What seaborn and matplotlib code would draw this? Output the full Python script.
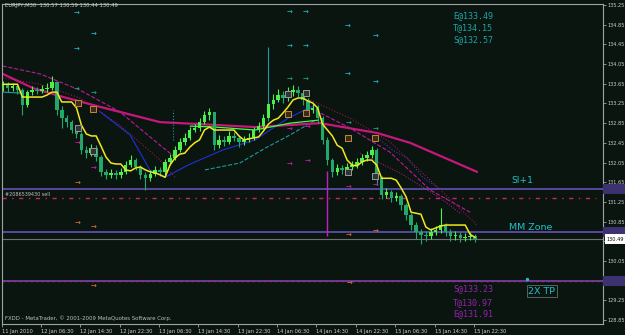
import numpy as np
import pandas as pd
import matplotlib
matplotlib.use("Agg")
import matplotlib.pyplot as plt
import matplotlib.transforms as mtrans
from matplotlib.patches import Rectangle
import seaborn as sns

# ---------------- data (hourly candles, x = hours since first bar) ----------------
open_first = 133.58
close = [133.62, 133.56, 133.60, 133.52, 133.22, 133.48, 133.52, 133.50, 133.54, 133.56,
         133.68, 133.12, 132.95, 132.87, 132.71, 132.63, 132.30, 132.24, 132.34, 132.16,
         131.86, 131.80, 131.84, 131.80, 131.86, 132.00, 132.10, 131.96, 131.80, 131.73,
         131.82, 131.90, 131.86, 132.06, 132.14, 132.30, 132.47, 132.55, 132.71, 132.75,
         132.87, 133.01, 133.07, 132.40, 132.51, 132.47, 132.59, 132.55, 132.47, 132.51,
         132.55, 132.71, 132.79, 132.95, 133.24, 133.32, 133.42, 133.36, 133.48, 133.52,
         133.46, 133.32, 133.12, 133.16, 132.95, 132.51, 132.10, 131.86, 131.94, 131.90,
         131.96, 132.00, 132.06, 132.14, 132.20, 132.30, 131.73, 131.39, 131.45, 131.33,
         131.37, 131.18, 130.98, 130.78, 130.64, 130.58, 130.56, 130.64, 130.68, 130.78,
         130.64, 130.56, 130.58, 130.52, 130.54, 130.56, 130.49]
high = [133.70, 133.68, 133.66, 133.64, 133.56, 133.52, 133.60, 133.58, 133.62, 133.66,
        133.80, 133.70, 133.20, 133.02, 132.92, 132.78, 132.66, 132.38, 132.42, 132.40,
        132.20, 131.92, 131.92, 131.90, 131.94, 132.08, 132.20, 132.14, 132.00, 131.86,
        131.90, 131.98, 131.96, 132.12, 132.22, 132.38, 132.55, 132.64, 132.78, 132.84,
        132.96, 133.10, 133.16, 133.08, 132.60, 132.58, 132.70, 132.68, 132.60, 132.58,
        132.64, 132.78, 132.88, 133.04, 134.40, 133.44, 133.54, 133.50, 133.58, 133.62,
        133.60, 133.50, 133.36, 133.26, 133.22, 133.00, 132.56, 132.14, 132.02, 132.00,
        132.04, 132.08, 132.14, 132.22, 132.28, 132.38, 132.34, 131.78, 131.54, 131.50,
        131.46, 131.42, 131.22, 131.02, 130.84, 130.70, 130.66, 130.72, 130.76, 131.12,
        130.82, 130.70, 130.66, 130.64, 130.62, 130.64, 130.59]
low = [133.50, 133.48, 133.50, 133.44, 133.01, 133.18, 133.42, 133.44, 133.46, 133.48,
       133.52, 133.02, 132.75, 132.78, 132.64, 132.55, 132.22, 132.14, 132.18, 132.08,
       131.78, 131.72, 131.74, 131.72, 131.74, 131.82, 131.96, 131.90, 131.72, 131.50,
       131.68, 131.78, 131.78, 131.80, 132.00, 132.10, 132.26, 132.40, 132.50, 132.66,
       132.70, 132.84, 132.92, 132.30, 132.34, 132.38, 132.42, 132.48, 132.36, 132.40,
       132.46, 132.50, 132.66, 132.74, 132.90, 133.14, 133.28, 133.26, 133.30, 133.40,
       133.38, 133.22, 133.04, 133.06, 132.86, 132.42, 132.00, 131.76, 131.80, 131.82,
       131.84, 131.90, 131.94, 132.00, 132.08, 132.14, 131.60, 131.30, 131.32, 131.24,
       131.26, 131.08, 130.88, 130.68, 130.50, 130.40, 130.46, 130.50, 130.58, 130.62,
       130.56, 130.46, 130.48, 130.44, 130.46, 130.48, 130.44]
yellow = [133.64, 133.64, 133.64, 133.64, 133.38, 133.38, 133.38, 133.38, 133.38, 133.42,
          133.48, 133.48, 133.28, 133.28, 133.28, 133.16, 132.81, 132.63, 132.59, 132.59,
          132.38, 132.16, 132.04, 132.02, 132.02, 131.90, 131.88, 131.94, 131.96, 131.90,
          131.86, 131.84, 131.80, 131.75, 132.00, 132.14, 132.22, 132.24, 132.36, 132.45,
          132.51, 132.71, 132.77, 132.71, 132.71, 132.71, 132.71, 132.71, 132.59, 132.51,
          132.53, 132.55, 132.57, 132.69, 132.83, 132.91, 132.95, 133.06, 133.18, 133.32,
          133.36, 133.36, 133.30, 133.26, 133.16, 132.83, 132.71, 132.59, 132.40, 132.34,
          132.10, 132.00, 131.98, 132.06, 132.10, 132.10, 132.00, 131.73, 131.73, 131.73,
          131.69, 131.53, 131.35, 131.04, 131.02, 131.00, 130.74, 130.68, 130.72, 130.76,
          130.78, 130.78, 130.78, 130.78, 130.78, 130.59, 130.53]

ma_slow_h = [0, 6.2, 11.6, 19.8, 32.0, 40.1, 51.3, 64.5, 76.1, 82.8, 89.5, 96.4]
ma_slow_p = [133.85, 133.56, 133.40, 133.18, 132.87, 132.83, 132.77, 132.85, 132.65, 132.45, 132.16, 131.86]
env_a_left_h = [0, 7.6, 15.7, 23.8, 32.0, 35.0]
env_a_left_p = [134.01, 133.85, 133.52, 133.08, 132.40, 132.16]
env_b_left_h = [0, 7.6, 15.7, 23.8, 32.0, 35.0]
env_b_left_p = [133.77, 133.64, 133.36, 132.81, 132.10, 131.75]
env_a_right_h = [62.5, 70.6, 78.7, 86.9, 96.4]
env_a_right_p = [133.32, 132.95, 132.47, 131.69, 130.78]
env_b_right_h = [62.5, 70.6, 78.7, 86.9, 95.0]
env_b_right_p = [133.16, 132.75, 132.26, 131.49, 131.04]
env_c_right_h = [72.6, 80.7, 88.9, 93.0]
env_c_right_p = [132.24, 131.84, 131.33, 131.02]
blue_h = [19.8, 25.9, 29.9, 33.0, 37.7, 44.6, 51.3, 58.0, 63.5]
blue_p = [133.08, 132.61, 131.90, 131.75, 132.00, 132.30, 132.51, 132.95, 133.22]
blue2_h = [76.7, 79.3, 82.2, 85.4, 88.3]
blue2_p = [132.51, 132.30, 132.14, 131.75, 131.55]
teal_h = [41.1, 48.2, 53.3, 58.4, 63.5]
teal_p = [131.90, 132.04, 132.34, 132.61, 132.91]
teal0_h = [0, 3.9]
teal0_p = [133.48, 133.46]
lime_h = [38.1, 43.2, 51.3, 58.4, 64.1]
lime_p = [132.79, 132.77, 132.71, 132.85, 132.91]

level_sl1 = 131.52
level_order = 131.32
level_mm = 130.64
level_bid = 130.49
level_tp2 = 129.65

vline_mag_h, vline_mag_lo, vline_mag_hi = 65.9, 130.56, 131.88
vline_teal_h, vline_teal_lo, vline_teal_hi = 34.6, 132.51, 133.12

arrows_cyan_h = [15.1, 18.4, 15.1, 58.2, 61.6, 70.0, 75.7, 58.2, 61.6, 70.0, 75.7]
arrows_cyan_p = [135.10, 134.66, 134.36, 135.11, 135.11, 134.82, 134.62, 134.42, 134.42, 133.85, 133.69]
arrows_green_h = [15.1, 18.4, 58.2, 61.6, 70.2, 75.7]
arrows_green_p = [133.54, 133.46, 133.75, 133.75, 132.85, 132.73]
arrows_mag_h = [15.3, 18.4, 58.2, 61.9, 58.2, 61.9, 70.2, 75.7]
arrows_mag_p = [132.45, 131.94, 132.73, 132.77, 132.02, 132.08, 131.55, 131.59]
arrows_org_h = [15.3, 15.3, 18.4, 70.2, 75.7, 18.4, 70.4]
arrows_org_p = [131.63, 130.82, 130.74, 130.58, 130.66, 129.54, 129.60]
box_tan_h = [15.3, 18.4, 58.0, 61.7, 70.2, 75.7]
box_tan_p = [133.26, 133.14, 133.03, 133.05, 132.55, 132.55]
box_gray_h = [15.3, 18.4, 58.0, 61.7, 70.2, 75.7]
box_gray_p = [132.75, 132.28, 133.44, 133.46, 131.86, 131.77]

time_labels = ["11 Jan 2010", "12 Jan 06:30", "12 Jan 14:30", "12 Jan 22:30", "13 Jan 06:30",
               "13 Jan 14:30", "13 Jan 22:30", "14 Jan 06:30", "14 Jan 14:30", "14 Jan 22:30",
               "15 Jan 06:30", "15 Jan 14:30", "15 Jan 22:30"]
time_hours = [0, 8, 16, 24, 32, 40, 48, 56, 64, 72, 80, 88, 96]
price_ticks = [128.85, 129.25, 129.65, 130.05, 130.45, 130.85, 131.25, 131.65, 132.05,
               132.45, 132.85, 133.25, 133.65, 134.05, 134.45, 134.85, 135.25]
buy_texts = ["E@133.49", "T@134.15", "S@132.57"]
buy_text_p = [135.03, 134.80, 134.54]
sell_texts = ["S@133.23", "T@130.97", "E@131.91"]
sell_text_p = [129.48, 129.21, 128.99]

# ---------------- style ----------------
BG = "#0a1510"
FRAME = "#9ea4a4"
TXT = "#cfcfcf"
sns.set_theme(style="dark", rc={"axes.facecolor": BG, "figure.facecolor": BG})
plt.rcParams["font.family"] = ["DejaVu Sans"]

fig = plt.figure(figsize=(6.25, 3.35), dpi=100)
fig.patch.set_facecolor(BG)
ax = fig.add_axes([2 / 625, 11 / 335, 601 / 625, 320 / 335])
ax.set_facecolor(BG)
ax.set_xlim(-0.14, 122.0)
ax.set_ylim(128.77, 135.27)
ax.grid(False)

# horizontal objects
ax.axhline(level_tp2, color="#54469a", lw=1.4, zorder=1)
ax.axhline(level_tp2, color="#b0207a", lw=1.0, dashes=(2, 2), zorder=1.1)
ax.axhline(level_sl1, color="#57499e", lw=1.4, zorder=1)
ax.axhline(level_mm, color="#57499e", lw=1.4, zorder=1)
ax.axhline(level_bid, color="#707070", lw=0.8, zorder=1)
ax.plot([-0.14, 120.5], [level_order, level_order], color="#d0206a", lw=1.0,
        dashes=(3, 4, 1, 4), zorder=1)


def line(hs, ps, color, lw, ls="-", z=2):
    sns.lineplot(x=hs, y=ps, ax=ax, color=color, lw=lw, linestyle=ls,
                 sort=False, estimator=None, legend=False, zorder=z)


# indicator lines
line(env_a_left_h, env_a_left_p, "#c0189a", 0.8, "--")
line(env_b_left_h, env_b_left_p, "#a0124a", 0.8, ":")
line(env_a_right_h, env_a_right_p, "#a0124a", 0.8, ":")
line(env_b_right_h, env_b_right_p, "#c0189a", 0.8, "--")
line(env_c_right_h, env_c_right_p, "#c0189a", 0.7, ":")
line(blue_h, blue_p, "#2030d8", 0.8)
line(blue2_h, blue2_p, "#4a30c8", 0.8, ":")
line(teal_h, teal_p, "#1f9aa0", 0.8, "--")
line(teal0_h, teal0_p, "#1f9aa0", 0.8)
line(ma_slow_h, ma_slow_p, "#c8177c", 1.6)
line(lime_h, lime_p, "#40ff40", 0.9)

# candles
hours = np.arange(len(close))
opens = np.array([open_first] + close[:-1])
closes = np.array(close)
up = closes >= opens
cols = np.where(up, "#4cf04c", "#22a86a")
wick_cols = cols.copy()
wick_cols[int(np.argmax(high))] = "#1f9aa0"
ax.vlines(hours, low, high, colors=wick_cols, lw=0.8, zorder=3)
bodies = np.maximum(np.abs(closes - opens), 0.025)
ax.bar(hours, bodies, bottom=np.minimum(opens, closes), width=0.72, color=cols,
       linewidth=0, zorder=3)

line(hours, yellow, "#f2e81e", 1.1, z=4)

# vertical objects
ax.vlines([vline_mag_h], vline_mag_lo, vline_mag_hi, colors="#c020c0", lw=1.0, zorder=2)
ax.vlines([vline_teal_h], vline_teal_lo, vline_teal_hi, colors="#1f9aa0", lw=0.8,
          linestyles=":", zorder=2)

# trade markers
for hs, ps, c in [(arrows_cyan_h, arrows_cyan_p, "#22b4bc"),
                  (arrows_green_h, arrows_green_p, "#1fa080"),
                  (arrows_mag_h, arrows_mag_p, "#c020a0"),
                  (arrows_org_h, arrows_org_p, "#d86a30")]:
    for h, p in zip(hs, ps):
        ax.text(h, p, "\u2192", color=c, fontsize=5, fontweight="bold",
                ha="center", va="center", zorder=5)
ax.scatter(box_tan_h, box_tan_p, marker="s", s=14, facecolors="#3a2c18",
           edgecolors="#c08a3a", linewidths=0.7, zorder=5)
ax.scatter(box_gray_h, box_gray_p, marker="s", s=14, facecolors="#303434",
           edgecolors="#9a9a9a", linewidths=0.7, zorder=5)

# texts on chart
for t, p in zip(buy_texts, buy_text_p):
    ax.text(91.5, p, t, color="#1aa5a5", fontsize=6, family="DejaVu Sans Mono",
            ha="left", va="center", zorder=6)
for t, p in zip(sell_texts, sell_text_p):
    ax.text(91.5, p, t, color="#9a20b0", fontsize=6, family="DejaVu Sans Mono",
            ha="left", va="center", zorder=6)
ax.text(105.7, level_sl1 + 0.17, "Sl+1", color="#22c0c8", fontsize=6.6,
        ha="center", va="center", zorder=6)
ax.text(107.4, level_mm + 0.10, "MM Zone", color="#22c0c8", fontsize=6.8,
        ha="center", va="center", zorder=6)
ax.text(109.6, 129.44, "2X TP", color="#22c0c8", fontsize=6.8, ha="center", va="center",
        zorder=6, bbox=dict(boxstyle="square,pad=0.15", fc="none", ec="#5e7070", lw=0.6))
ax.scatter([106.6], [129.68], s=2, color="#22c0c8", zorder=6)
ax.text(0.5, 131.41, "#2086539430 sell", color="#c0c0c0", fontsize=3.5,
        ha="left", va="center", zorder=6)

# axes frame and ticks
for s in ax.spines.values():
    s.set_color(FRAME)
    s.set_linewidth(0.8)
ax.yaxis.tick_right()
ax.set_yticks(price_ticks)
ax.set_yticklabels(["" if abs(v - level_bid) < 0.1 else f"{v:.2f}" for v in price_ticks])
ax.tick_params(axis="y", colors=FRAME, labelcolor=TXT, labelsize=3.6, length=2,
               width=0.6, pad=1.5, direction="out")
xt = np.array(time_hours, dtype=float) - 0.24
xt[0] = -0.14
ax.set_xticks(xt)
ax.set_xticklabels(time_labels)
ax.tick_params(axis="x", colors=FRAME, labelcolor=TXT, labelsize=3.7, length=2.5,
               width=0.6, pad=0.8, direction="out", bottom=True)
for lab in ax.get_xticklabels():
    lab.set_ha("left")
ax.set_xlabel("")
ax.set_ylabel("")

# right-axis price label boxes
tr = mtrans.blended_transform_factory(ax.transAxes, ax.transData)
for lv in [level_sl1, level_mm, level_tp2]:
    ax.add_patch(Rectangle((1.0, lv - 0.1), 0.037, 0.2, transform=tr, clip_on=False,
                           fc="#3c3270", ec="none", zorder=7))
ax.add_patch(Rectangle((1.003, level_bid - 0.1), 0.034, 0.2, transform=tr, clip_on=False,
                       fc="white", ec="none", zorder=7))
ax.text(1.006, level_bid, f"{level_bid:.2f}", transform=tr, color="black", fontsize=3.6,
        ha="left", va="center", zorder=8, clip_on=False)

# header and footer
fig.text(5 / 625, 1 - 5.5 / 335, "EURJPY,M30  130.57 130.59 130.44 130.49", color=TXT,
         fontsize=3.8, ha="left", va="center")
fig.text(5 / 625, 1 - 318 / 335, "FXDD - MetaTrader, \u00a9 2001-2009 MetaQuotes Software Corp.",
         color="#bdbdbd", fontsize=3.9, ha="left", va="center")

fig.savefig("out.png", dpi=100, facecolor=BG)
